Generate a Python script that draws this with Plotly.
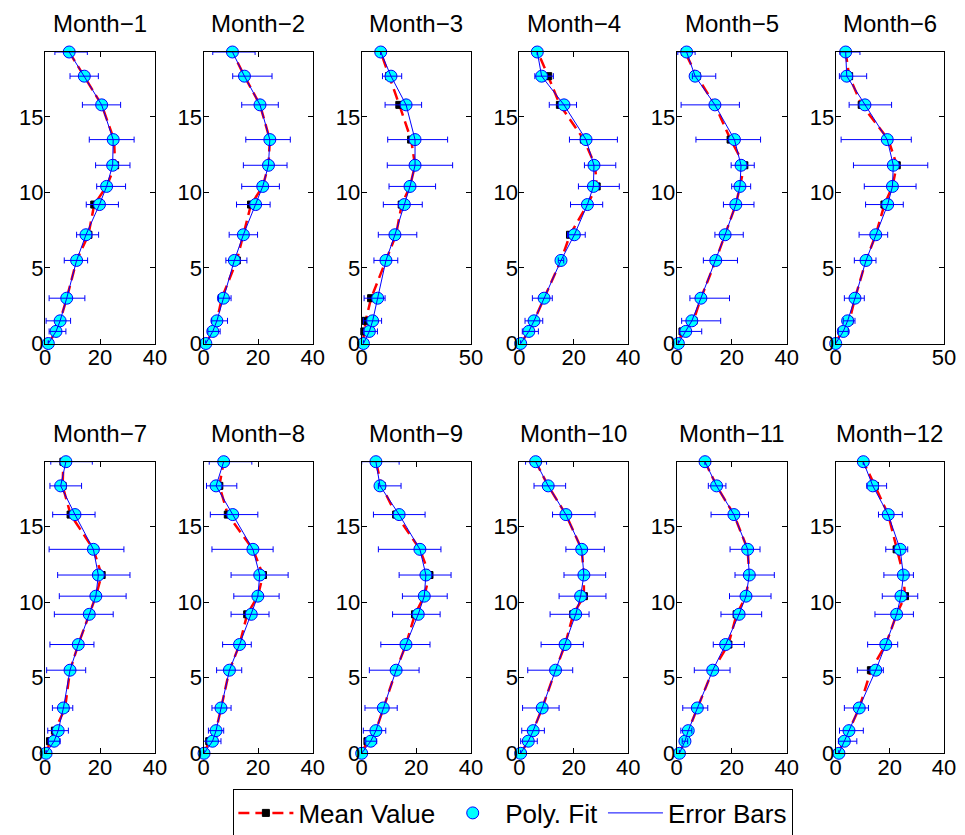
import plotly.graph_objects as go

# ---------------- data ----------------
heights = [0, 0.8, 1.5, 3.0, 5.5, 7.2, 9.2, 10.4, 11.8, 13.5, 15.8, 17.7, 19.3]
months = ["Month−1", "Month−2", "Month−3", "Month−4", "Month−5", "Month−6",
          "Month−7", "Month−8", "Month−9", "Month−10", "Month−11", "Month−12"]
x_max = [40, 40, 50, 40, 40, 50, 40, 40, 40, 40, 40, 40]
y_ticks = [0, 5, 10, 15]

fit_m01 = [1.2, 4.0, 5.5, 7.9, 11.5, 14.9, 19.8, 22.4, 24.6, 24.8, 20.6, 14.3, 8.8]
mean_m01 = [1.2, 4.0, 5.5, 7.9, 11.5, 15.8, 17.9, 22.4, 25.5, 25.1, 20.6, 14.3, 8.8]
lo_m01 = [1.2, 1.5, 0.4, 1.5, 7.0, 11.5, 15.0, 18.8, 18.4, 16.1, 13.6, 9.1, 3.6]
hi_m01 = [1.2, 7.6, 9.3, 14.5, 15.5, 19.5, 26.7, 29.3, 30.9, 32.4, 27.5, 19.4, 15.4]

fit_m02 = [0.85, 3.4, 4.9, 7.3, 11.3, 14.6, 19.1, 21.7, 23.8, 24.3, 20.7, 15.0, 10.6]
mean_m02 = [0.85, 3.4, 4.9, 6.7, 12.2, 14.6, 17.4, 21.7, 23.8, 24.3, 20.7, 15.0, 10.6]
lo_m02 = [0.85, 1.6, 3.0, 5.5, 8.2, 9.4, 12.1, 14.0, 14.6, 15.5, 14.0, 10.7, 3.4]
hi_m02 = [0.85, 6.1, 8.8, 10.1, 15.9, 19.8, 24.4, 27.8, 30.6, 31.8, 27.4, 25.1, 18.9]

fit_m03 = [0.8, 3.5, 5.0, 7.3, 11.1, 15.2, 19.5, 22.1, 24.4, 24.4, 20.3, 13.4, 8.7]
mean_m03 = [0.5, 1.2, 1.8, 4.3, 11.1, 15.7, 18.3, 22.1, 24.4, 22.6, 17.2, 12.5, 8.7]
lo_m03 = [0.8, 1.1, 0.8, 1.1, 5.6, 7.6, 9.9, 12.5, 11.7, 11.9, 10.7, 9.5, 8.7]
hi_m03 = [0.8, 7.2, 9.1, 10.7, 16.5, 25.2, 27.7, 33.8, 41.6, 39.3, 27.4, 18.3, 8.7]

fit_m04 = [0.5, 3.5, 5.4, 9.1, 15.3, 20.2, 25.0, 27.2, 27.4, 24.5, 16.4, 8.2, 6.6]
mean_m04 = [0.5, 3.5, 5.4, 9.1, 15.3, 18.6, 25.0, 28.4, 27.8, 23.7, 14.9, 10.6, 6.8]
lo_m04 = [0.5, 1.1, 2.1, 4.8, 14.3, 17.7, 18.8, 21.7, 23.9, 18.4, 11.0, 5.7, 6.6]
hi_m04 = [0.5, 7.0, 8.6, 12.1, 16.3, 24.2, 30.6, 36.7, 35.4, 36.0, 21.0, 12.5, 6.6]

fit_m05 = [0.6, 3.3, 5.5, 8.8, 14.2, 17.6, 21.5, 23.0, 23.4, 21.0, 13.9, 6.7, 3.6]
mean_m05 = [0.6, 2.1, 6.1, 8.8, 14.2, 17.6, 21.5, 23.0, 24.6, 19.6, 13.9, 7.3, 3.0]
lo_m05 = [0.6, 1.0, 1.8, 4.8, 9.7, 13.9, 17.0, 20.0, 19.8, 7.0, 1.6, 5.7, 0.4]
hi_m05 = [0.6, 9.1, 16.0, 19.2, 22.1, 24.2, 28.1, 26.9, 28.2, 30.5, 22.8, 14.2, 6.7]

fit_m06 = [0.0, 3.5, 5.5, 8.9, 14.0, 18.5, 24.0, 26.2, 26.6, 23.8, 13.5, 5.1, 4.6]
mean_m06 = [0.0, 2.8, 6.3, 8.9, 14.0, 18.5, 22.5, 26.2, 28.2, 24.3, 12.0, 6.2, 4.6]
lo_m06 = [0.0, 1.2, 3.5, 4.0, 8.6, 10.8, 13.8, 13.2, 8.2, 2.5, 6.2, 1.7, 2.0]
hi_m06 = [0.0, 5.8, 8.9, 13.2, 18.6, 24.0, 31.2, 37.1, 42.5, 34.9, 25.8, 14.3, 11.2]

fit_m07 = [0.4, 3.3, 4.8, 6.7, 9.1, 12.1, 16.1, 18.5, 19.4, 17.6, 10.9, 5.7, 7.6]
mean_m07 = [0.6, 1.8, 3.6, 7.3, 9.1, 12.1, 16.1, 18.5, 20.6, 17.6, 9.3, 6.4, 6.7]
lo_m07 = [0.4, 1.2, 1.0, 2.7, 0.6, 1.8, 3.4, 5.2, 4.6, 1.5, 2.8, 1.8, 2.1]
hi_m07 = [0.4, 5.5, 8.5, 10.1, 14.8, 17.8, 24.8, 29.5, 30.9, 28.7, 18.2, 13.3, 17.2]

fit_m08 = [0.2, 3.3, 4.6, 6.4, 9.5, 13.2, 17.5, 19.9, 20.6, 18.1, 10.7, 4.6, 7.4]
mean_m08 = [0.2, 2.1, 4.6, 6.4, 9.5, 13.2, 16.0, 19.9, 21.8, 18.1, 8.9, 5.8, 7.4]
lo_m08 = [0.2, 0.0, 1.8, 3.1, 4.8, 7.0, 10.1, 11.1, 10.1, 3.1, 2.5, 1.1, 2.1]
hi_m08 = [0.2, 6.4, 7.4, 10.1, 14.0, 17.5, 24.0, 27.7, 31.0, 25.5, 19.9, 12.2, 17.7]

fit_m09 = [0.0, 3.3, 5.2, 7.9, 12.6, 16.2, 20.7, 22.9, 23.5, 21.3, 13.7, 6.7, 5.2]
mean_m09 = [0.0, 2.1, 5.2, 7.9, 12.6, 16.2, 19.5, 22.9, 24.8, 21.3, 12.6, 7.3, 5.2]
lo_m09 = [0.0, 1.5, 0.6, 1.2, 2.8, 7.0, 11.3, 14.9, 13.7, 6.1, 4.3, 6.1, 0.0]
hi_m09 = [0.0, 5.5, 8.8, 13.0, 21.0, 25.0, 28.7, 31.3, 32.7, 29.0, 23.2, 14.4, 13.7]

fit_m10 = [0.5, 3.3, 5.1, 8.4, 13.3, 16.8, 20.7, 22.5, 23.7, 22.9, 17.1, 10.6, 6.0]
mean_m10 = [0.5, 3.3, 5.1, 8.4, 13.3, 16.8, 19.8, 23.7, 23.7, 22.9, 17.1, 10.6, 6.0]
lo_m10 = [0.5, 0.5, 0.9, 1.2, 3.1, 8.0, 11.3, 14.6, 16.4, 17.1, 12.2, 5.4, 2.3]
hi_m10 = [0.5, 6.6, 9.2, 14.6, 19.6, 23.5, 25.6, 31.8, 31.7, 31.2, 27.8, 17.0, 10.0]

fit_m11 = [1.0, 3.0, 4.2, 7.5, 13.1, 17.8, 22.7, 25.2, 26.4, 25.8, 20.8, 14.5, 10.3]
mean_m11 = [1.0, 3.0, 4.2, 7.5, 13.1, 18.8, 21.8, 25.2, 26.4, 25.8, 20.8, 14.5, 10.3]
lo_m11 = [1.0, 2.0, 1.5, 2.2, 6.4, 13.3, 16.1, 19.2, 21.2, 19.4, 12.5, 11.5, 10.3]
hi_m11 = [1.0, 4.0, 5.5, 11.3, 19.4, 24.6, 30.9, 34.3, 35.5, 30.3, 26.1, 17.9, 10.3]

fit_m12 = [1.2, 3.2, 4.9, 8.7, 14.8, 18.5, 22.5, 24.1, 25.0, 23.8, 19.4, 13.7, 10.2]
mean_m12 = [0.7, 3.2, 4.9, 8.7, 13.0, 18.5, 22.5, 25.6, 25.0, 22.5, 19.4, 14.5, 10.2]
lo_m12 = [1.2, 1.0, 1.4, 3.2, 8.0, 11.8, 14.5, 17.2, 17.8, 18.5, 15.8, 11.5, 10.2]
hi_m12 = [1.2, 7.8, 10.2, 12.1, 17.6, 22.9, 28.7, 30.3, 28.7, 26.6, 24.6, 18.8, 10.2]

fits = [fit_m01, fit_m02, fit_m03, fit_m04, fit_m05, fit_m06,
        fit_m07, fit_m08, fit_m09, fit_m10, fit_m11, fit_m12]
means = [mean_m01, mean_m02, mean_m03, mean_m04, mean_m05, mean_m06,
         mean_m07, mean_m08, mean_m09, mean_m10, mean_m11, mean_m12]
los = [lo_m01, lo_m02, lo_m03, lo_m04, lo_m05, lo_m06,
       lo_m07, lo_m08, lo_m09, lo_m10, lo_m11, lo_m12]
his = [hi_m01, hi_m02, hi_m03, hi_m04, hi_m05, hi_m06,
       hi_m07, hi_m08, hi_m09, hi_m10, hi_m11, hi_m12]

# ---------------- layout geometry (pixels) ----------------
W, H = 965, 835
col_left = [45, 203.5, 361.7, 519.3, 676.7, 835.7]
col_right = [155, 312.7, 471, 628.3, 786.7, 944]
row_top = [52, 461.7]
row_bot = [343.5, 753.3]
FONT = "Liberation Sans, Arial, Helvetica, sans-serif"

fig = go.Figure()
layout = dict(
    template="none",
    width=W, height=H,
    margin=dict(l=0, r=0, t=0, b=0, pad=0, autoexpand=False),
    paper_bgcolor="white", plot_bgcolor="white",
    font=dict(family=FONT, size=22, color="black"),
    annotations=[],
    showlegend=True,
    legend=dict(orientation="h", x=0.532, xanchor="center", y=-0.003, yanchor="bottom",
                bordercolor="black", borderwidth=1, bgcolor="white",
                font=dict(size=26, family=FONT, color="black"),
                tracegroupgap=0, itemwidth=55),
)

for i in range(12):
    r, c = divmod(i, 6)
    n = i + 1
    xa = "x" if n == 1 else f"x{n}"
    ya = "y" if n == 1 else f"y{n}"
    fit, mean, lo, hi = fits[i], means[i], los[i], his[i]
    first = (i == 0)

    fig.add_trace(go.Scatter(
        x=mean, y=heights, mode="lines+markers", name="Mean Value",
        line=dict(color="red", width=2.5, dash="11px,6px"),
        marker=dict(symbol="square", size=7, color="black",
                    line=dict(color="black", width=1)),
        xaxis=xa, yaxis=ya, showlegend=first, legendgroup="mean",
        cliponaxis=False))
    fig.add_trace(go.Scatter(
        x=fit, y=heights, mode="markers", name="Poly. Fit",
        marker=dict(symbol="circle", size=12, color="#00FFFF",
                    line=dict(color="blue", width=1)),
        xaxis=xa, yaxis=ya, showlegend=first, legendgroup="fit",
        cliponaxis=False))
    fig.add_trace(go.Scatter(
        x=fit, y=heights, mode="lines", name="Error Bars",
        line=dict(color="blue", width=1),
        error_x=dict(type="data", symmetric=False,
                     array=[h_ - f for h_, f in zip(hi, fit)],
                     arrayminus=[f - l for l, f in zip(lo, fit)],
                     color="blue", thickness=1, width=3),
        xaxis=xa, yaxis=ya, showlegend=first, legendgroup="err",
        cliponaxis=False))

    xm = x_max[i]
    xt = [0, 20, 40] if xm == 40 else [0, 50]
    axis_common = dict(ticks="inside", ticklen=5, tickwidth=1, tickcolor="black",
                       showline=True, linecolor="black", linewidth=1, mirror="ticks",
                       showgrid=False, zeroline=False, automargin=False,
                       tickfont=dict(family=FONT, size=22, color="black"))
    layout["xaxis" if n == 1 else f"xaxis{n}"] = dict(
        domain=[col_left[c] / W, col_right[c] / W], range=[0, xm],
        tickvals=xt, anchor=ya, ticklabelstandoff=-6, **axis_common)
    layout["yaxis" if n == 1 else f"yaxis{n}"] = dict(
        domain=[1 - row_bot[r] / H, 1 - row_top[r] / H], range=[0, heights[-1]],
        tickvals=y_ticks, anchor=xa, ticklabelstandoff=-4, **axis_common)
    layout["annotations"].append(dict(
        text=months[i], xref="paper", yref="paper",
        x=(col_left[c] + col_right[c]) / 2 / W, y=1 - (row_top[r] - 28) / H,
        xanchor="center", yanchor="middle", showarrow=False,
        font=dict(family=FONT, size=24, color="black")))

fig.update_layout(**layout)
fig.write_html("out.html", config={"displayModeBar": False},
               post_script="document.body.style.margin='0px';")
